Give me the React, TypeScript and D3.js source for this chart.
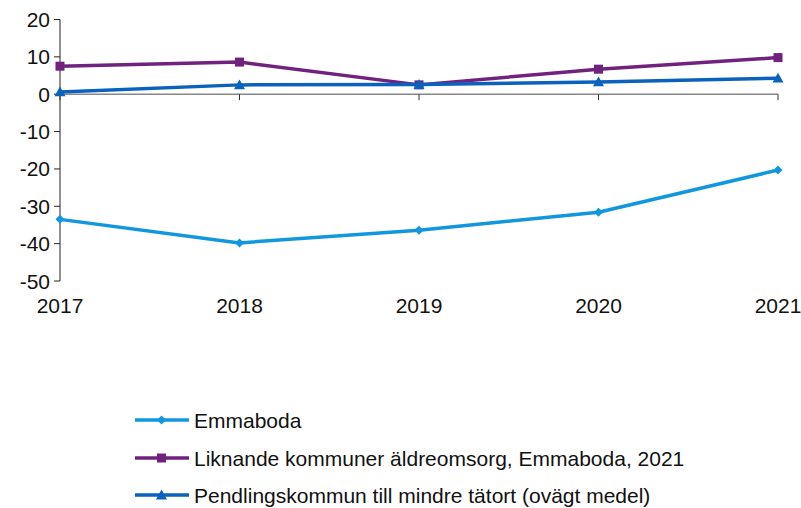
import React from "react";
import * as d3 from "d3";

const years = ["2017", "2018", "2019", "2020", "2021"];
const emmaboda = [-33.5, -39.8, -36.4, -31.6, -20.3];
const liknande = [7.5, 8.6, 2.5, 6.7, 9.8];
const pendling = [0.6, 2.5, 2.6, 3.3, 4.3];
const yTicks = [20, 10, 0, -10, -20, -30, -40, -50];

const seriesNames = [
  "Emmaboda",
  "Liknande kommuner äldreomsorg, Emmaboda, 2021",
  "Pendlingskommun till mindre tätort (ovägt medel)",
];
const seriesColors = ["#1197DE", "#70227E", "#0A62BE"];
const seriesMarkers = ["diamond", "square", "triangle"];

export default function App() {
  const W = 801, H = 508;
  const x = d3.scalePoint<string>().domain(years).range([60, 778]);
  const y = d3.scaleLinear().domain([-50, 20]).range([281, 19.5]);
  const line = d3.line<number>().x((_, i) => x(years[i])!).y((d) => y(d));
  const data = [emmaboda, liknande, pendling];
  const font = "Liberation Sans, Arial, sans-serif";

  const marker = (type: string, cx: number, cy: number, color: string, key: string) => {
    if (type === "diamond") {
      const s = 4.5;
      return <path key={key} d={`M${cx},${cy - s}L${cx + s},${cy}L${cx},${cy + s}L${cx - s},${cy}Z`} fill={color} />;
    }
    if (type === "square") {
      const s = 4.5;
      return <rect key={key} x={cx - s} y={cy - s} width={2 * s} height={2 * s} fill={color} />;
    }
    const s = 5.5;
    return <path key={key} d={`M${cx},${cy - s}L${cx + s},${cy + s * 0.8}L${cx - s},${cy + s * 0.8}Z`} fill={color} />;
  };

  return (
    <svg width={W} height={H} style={{ position: "absolute", left: 0, top: 0, background: "#fff" }} fontFamily={font}>
      {/* y axis */}
      <line x1={60} x2={60} y1={y(20)} y2={y(-50)} stroke="#222" strokeWidth={1} />
      {yTicks.map((t) => (
        <g key={t}>
          <line x1={54} x2={60} y1={y(t)} y2={y(t)} stroke="#222" strokeWidth={1} />
          <text x={50} y={y(t)} dy="0.36em" textAnchor="end" fontSize={21} fill="#111">{t}</text>
        </g>
      ))}
      {/* x axis at zero */}
      <line x1={60} x2={778} y1={y(0)} y2={y(0)} stroke="#888" strokeWidth={1.5} />
      {years.map((yr) => (
        <g key={yr}>
          <line x1={x(yr)!} x2={x(yr)!} y1={y(0)} y2={y(0) + 6} stroke="#333" strokeWidth={1} />
          <text x={x(yr)!} y={313} textAnchor="middle" fontSize={21} fill="#111">{yr}</text>
        </g>
      ))}
      {/* series */}
      {data.map((d, si) => (
        <g key={si}>
          <path d={line(d)!} fill="none" stroke={seriesColors[si]} strokeWidth={3.5} strokeLinejoin="round" />
          {d.map((v, i) => marker(seriesMarkers[si], x(years[i])!, y(v), seriesColors[si], `${si}-${i}`))}
        </g>
      ))}
      {/* legend */}
      {seriesNames.map((n, i) => {
        const ly = [420, 458, 495][i];
        return (
          <g key={n}>
            <line x1={135} x2={189} y1={ly} y2={ly} stroke={seriesColors[i]} strokeWidth={3.5} />
            {marker(seriesMarkers[i], 161.5, ly, seriesColors[i], `l${i}`)}
            <text x={194} y={ly} dy="0.36em" fontSize={21} fill="#111">{n}</text>
          </g>
        );
      })}
    </svg>
  );
}
